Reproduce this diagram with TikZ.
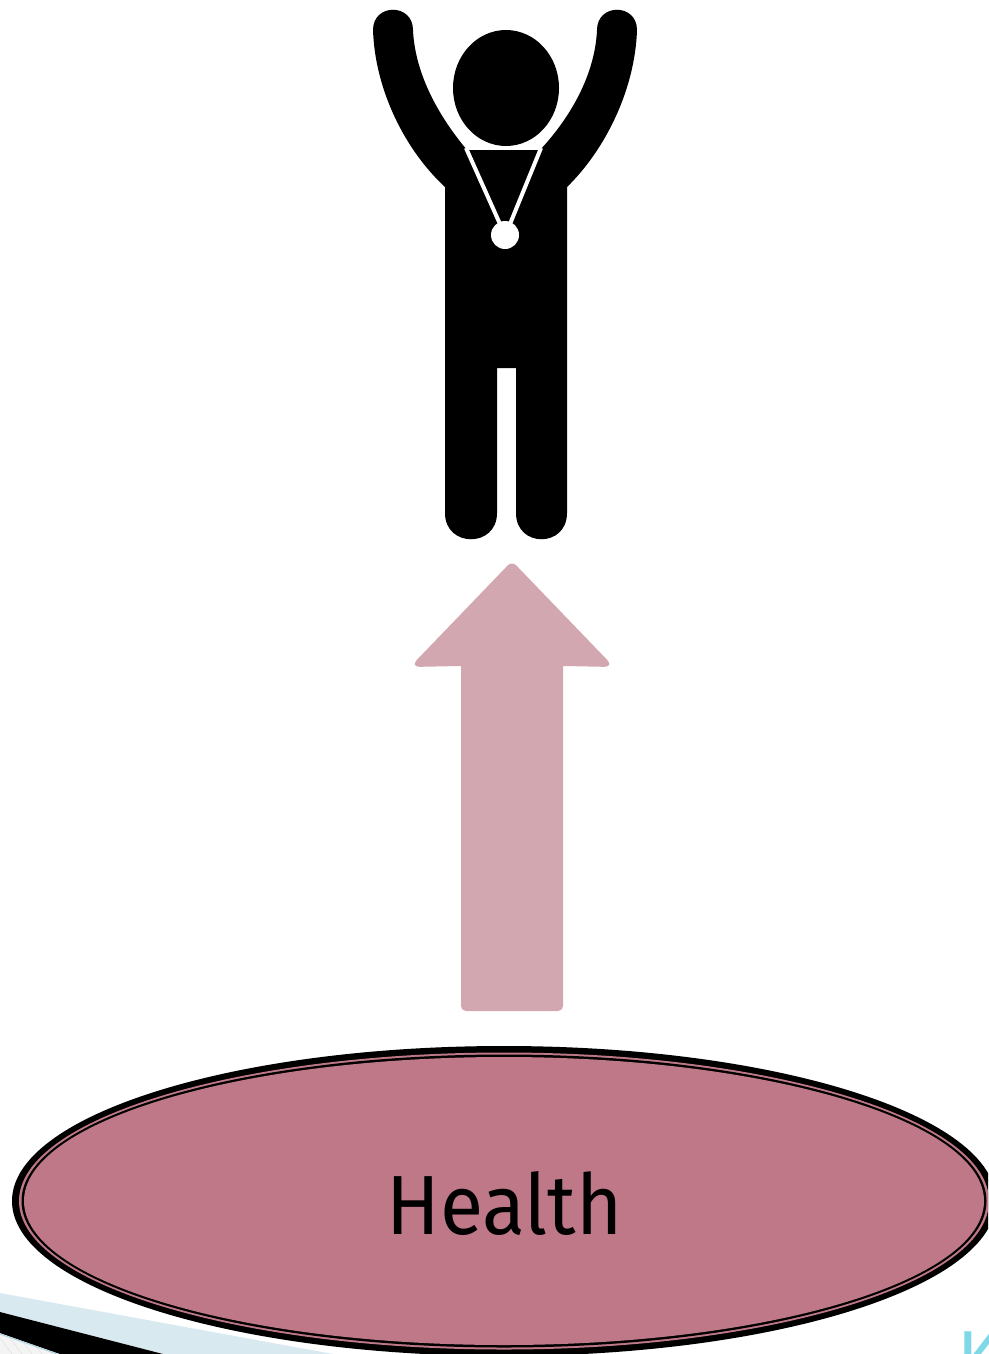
\documentclass[tikz,border=0pt]{standalone}
\usepackage{fontspec}
\setmainfont[FakeStretch=0.94]{Fira Sans}
\usetikzlibrary{positioning,shapes.geometric}
\definecolor{rosa}{HTML}{BF7887}
\definecolor{palo}{HTML}{D2A7B0}
\definecolor{hielo}{HTML}{D8E9F0}
\definecolor{linea}{HTML}{A9D3E2}
\definecolor{trama}{HTML}{E4E4E4}
\definecolor{cian}{HTML}{7FD8E6}
\begin{document}
\begin{tikzpicture}[x=1pt,y=-1pt,
      ring/.style={ellipse,inner sep=0pt,minimum width=#1},
      blocktip/.style={fill=palo},
      figura/.style={fill=black},
      medal/.style={draw=white,line width=4pt}]
    \useasboundingbox (0,0) rectangle (988,1354);
    \clip (0,0) rectangle (988,1354);
    % bottom corner scraps
    \fill[trama!40] (0,1333) -- (57,1354) -- (0,1354) -- cycle;
    \foreach \i in {0,10,...,50} \draw[trama,line width=0.6pt] (\i,1338) -- (\i+12,1354);
    \fill[hielo] (0,1293) -- (333,1354) -- (163,1354) -- (0,1312) -- cycle;
    \fill[black] (0,1312) -- (163,1354) -- (60,1354) -- (0,1333) -- cycle;
    \draw[linea,line width=1pt] (0,1334) -- (57,1354);
    \node[anchor=base west,font=\fontsize{78}{78}\selectfont,text=cian,inner sep=0pt] (corner) at (957,1385) {K};
    % health ellipse, outside to inside
    \node[ring=984pt,minimum height=310pt,fill=black] (outer) at (504,1201) {};
    \node[ring=970pt,minimum height=297pt,fill=rosa] (band) at (outer.center) {};
    \node[ring=965pt,minimum height=293pt,fill=black] (inner) at (outer.center) {};
    \node[ring=960pt,minimum height=288pt,fill=rosa] (health) at (outer.center) {};
    \node[font=\fontsize{84}{84}\selectfont] (label) at (504.5,1203) {Health};
    % block arrow
    \fill[blocktip] (461,900) [rounded corners=5pt] -- (461,1011) -- (563,1011) [sharp corners] -- (563,666)
      [rounded corners=10pt] -- (614,667) [rounded corners=6pt] -- (512,561) [rounded corners=10pt] -- (410,667)
      [sharp corners] -- (461,666) -- cycle;
    % person with raised arms
    \fill[figura] (373,30) .. controls (373,3) and (413,3) .. (413,30)
      .. controls (415,75) and (440,118) .. (467,150)
      -- (540,150)
      .. controls (570,118) and (595,75) .. (597,30)
      .. controls (597,3) and (637,3) .. (637,30)
      .. controls (635,90) and (605,150) .. (567,187)
      -- (567,513) .. controls (567,548) and (516,548) .. (516,513)
      -- (516,368) -- (497,368) -- (497,513)
      .. controls (497,548) and (445,548) .. (445,513)
      -- (445,187)
      .. controls (405,150) and (375,90) .. (373,30) -- cycle;
    \node[ellipse,fill=black,minimum width=106pt,minimum height=116pt,inner sep=0pt] (head) at (506,88) {};
    \draw[medal] (466,148) -- (500,224);
    \draw[medal] (541,148) -- (510,224);
    \node[circle,fill=white,minimum size=28pt,inner sep=0pt] (medalla) at (505,235) {};
\end{tikzpicture}
\end{document}
